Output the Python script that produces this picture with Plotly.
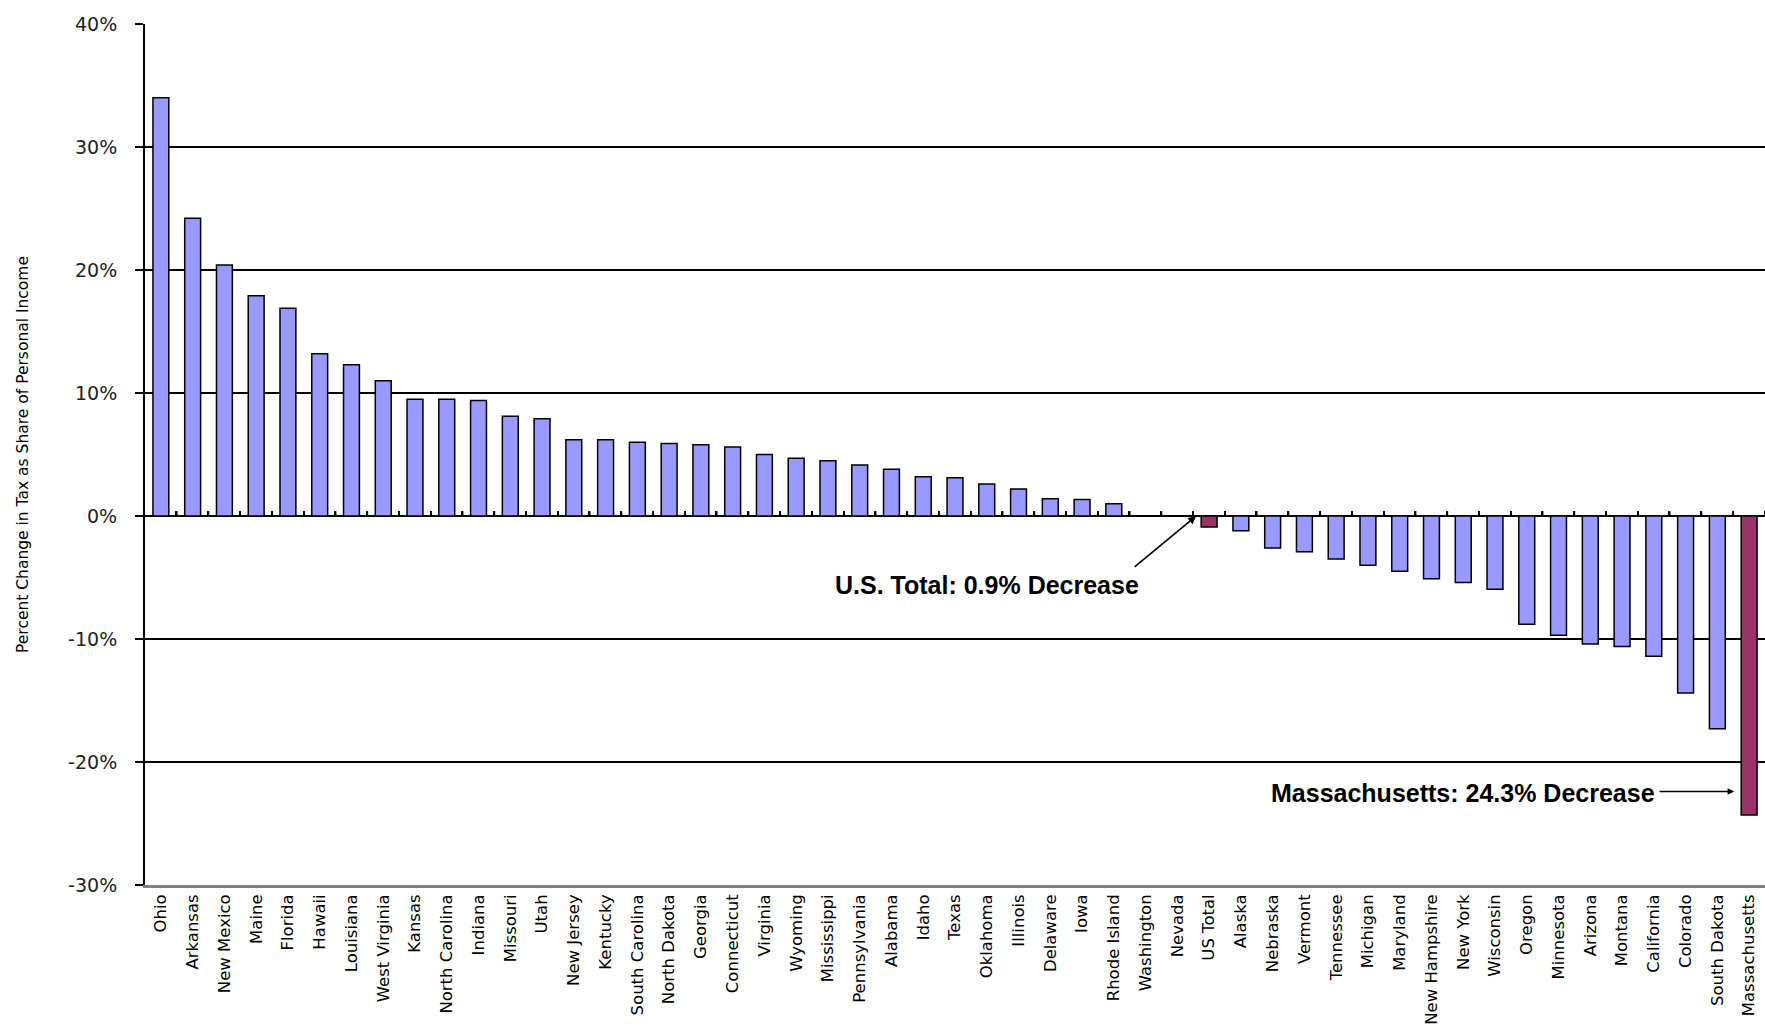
import plotly.graph_objects as go

states = ["Ohio", "Arkansas", "New Mexico", "Maine", "Florida", "Hawaii", "Louisiana",
          "West Virginia", "Kansas", "North Carolina", "Indiana", "Missouri", "Utah",
          "New Jersey", "Kentucky", "South Carolina", "North Dakota", "Georgia",
          "Connecticut", "Virginia", "Wyoming", "Mississippi", "Pennsylvania", "Alabama",
          "Idaho", "Texas", "Oklahoma", "Illinois", "Delaware", "Iowa", "Rhode Island",
          "Washington", "Nevada", "US Total", "Alaska", "Nebraska", "Vermont", "Tennessee",
          "Michigan", "Maryland", "New Hampshire", "New York", "Wisconsin", "Oregon",
          "Minnesota", "Arizona", "Montana", "California", "Colorado", "South Dakota",
          "Massachusetts"]

values = [34.0, 24.2, 20.4, 17.9, 16.9, 13.2, 12.3, 11.0, 9.5, 9.5, 9.4, 8.1, 7.9,
          6.2, 6.2, 6.0, 5.9, 5.8, 5.6, 5.0, 4.7, 4.5, 4.15, 3.8, 3.2, 3.1, 2.6, 2.2,
          1.4, 1.35, 1.0, 0.0, 0.0, -0.9, -1.2, -2.6, -2.9, -3.5, -4.0, -4.5, -5.1,
          -5.4, -5.95, -8.8, -9.7, -10.4, -10.6, -11.4, -14.4, -17.3, -24.3]

highlight = ["US Total", "Massachusetts"]
bar_color = "#9999FF"
highlight_color = "#993366"

y_ticks = [-30, -20, -10, 0, 10, 20, 30, 40]
y_tick_labels = ["-30%", "-20%", "-10%", "0%", "10%", "20%", "30%", "40%"]

y_title = "Percent Change in Tax as Share of Personal Income"
us_note = "U.S. Total: 0.9% Decrease"
ma_note = "Massachusetts: 24.3% Decrease"

colors = [highlight_color if s in highlight else bar_color for s in states]

fig = go.Figure()
fig.add_trace(go.Bar(
    x=states, y=values, width=0.5,
    marker=dict(color=colors, line=dict(color="black", width=1.5)),
    showlegend=False, hoverinfo="x+y",
))
# small category-boundary tick marks standing on the zero line
fig.add_trace(go.Bar(
    x=states, y=[0.4] * len(states), base=0, width=0.05, offset=0.475,
    marker=dict(color="black", line=dict(width=0)),
    hoverinfo="skip", showlegend=False,
))

label_font = dict(family="DejaVu Sans", size=16.5, color="black")
note_font = dict(family="Liberation Sans", size=25, color="black")
x_range = [-0.5, len(states) - 0.5]

fig.update_layout(
    width=1765, height=1031,
    margin=dict(l=145, r=0, t=24, b=146),
    paper_bgcolor="white", plot_bgcolor="white",
    barmode="overlay",
    xaxis=dict(
        type="category", categoryorder="array", categoryarray=states,
        range=x_range,
        showline=True, linecolor="#808080", linewidth=2.5,
        ticks="", tickangle=-90, tickfont=label_font,
        showgrid=False, automargin=False, zeroline=False,
    ),
    yaxis=dict(
        range=[-30, 40], tickvals=y_ticks, ticktext=y_tick_labels,
        showgrid=True, gridcolor="black", gridwidth=1.5,
        zeroline=True, zerolinecolor="black", zerolinewidth=2,
        showline=True, linecolor="black", linewidth=2,
        ticks="outside", ticklen=8, tickwidth=1.5, tickcolor="black",
        tickfont=dict(family="DejaVu Sans", size=19, color="#222222"),
        ticklabelstandoff=14,
        title=dict(text=y_title, font=dict(family="DejaVu Sans", size=15.5, color="black"),
                   standoff=36),
        automargin=False,
    ),
    annotations=[
        dict(x="Oklahoma", y=-5.6, xref="x", yref="y", text="<b>" + us_note + "</b>",
             showarrow=False, font=note_font),
        dict(x="US Total", y=0, xref="x", yref="y", text="", xshift=-13,
             showarrow=True, ax=-63, ay=52, arrowhead=2, arrowsize=1, arrowwidth=1.6,
             arrowcolor="black"),
        dict(x="New York", y=-22.5, xref="x", yref="y", text="<b>" + ma_note + "</b>",
             showarrow=False, font=note_font),
        dict(x="Massachusetts", y=-22.4, xref="x", yref="y", text="", xshift=-15,
             showarrow=True, ax=-76, ay=0, arrowhead=2, arrowsize=1, arrowwidth=1.3,
             arrowcolor="black"),
    ],
)

fig.write_html("out.html")
